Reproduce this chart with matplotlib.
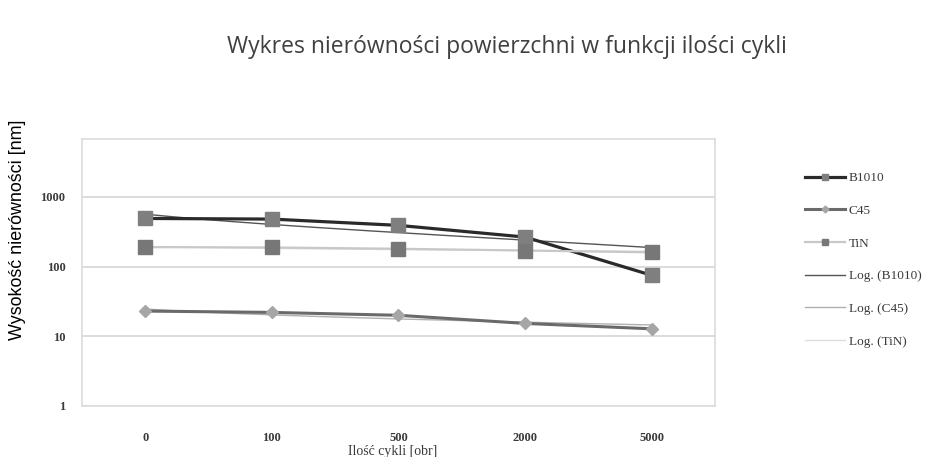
import numpy as np
import matplotlib
matplotlib.use("Agg")
import matplotlib.pyplot as plt
from matplotlib.lines import Line2D

# dane
cycles = ["0", "100", "500", "2000", "5000"]
b1010 = [490, 480, 390, 265, 75]
c45 = [23, 22, 20, 15.3, 12.8]
tin = [190, 188, 180, 170, 160]

series_names = ["B1010", "C45", "TiN"]
line_colors = ["#2a2a2a", "#6a6a6a", "#c8c8c8"]
marker_colors = ["#7f7f7f", "#a6a6a6", "#777777"]
trend_colors = ["#555555", "#b0b0b0", "#dedede"]

fig = plt.figure(figsize=(9.28, 4.57), dpi=100)
ax = fig.add_axes([82 / 928, 1 - 406 / 457, 633 / 928, 267 / 457])

x = np.arange(len(cycles))
data = [b1010, c45, tin]
markers = ["s", "D", "s"]
msizes = [9.5, 6.5, 9.5]
lwidths = [2.3, 2.2, 1.6]

for vals, lc, mc, m, ms, lw in zip(data, line_colors, marker_colors, markers, msizes, lwidths):
    ax.plot(x, vals, color=lc, linewidth=lw, marker=m, markersize=ms,
            markerfacecolor=mc, markeredgecolor=mc, zorder=3)

# linie trendu logarytmicznego (jak w Excelu: y = a*ln(x) + b, x = 1..n)
xx = np.linspace(1, len(cycles), 200)
for vals, tc in zip(data, trend_colors):
    a, b = np.polyfit(np.log(x + 1), vals, 1)
    ax.plot(xx - 1, a * np.log(xx) + b, color=tc, linewidth=1.0, zorder=2)

ax.set_yscale("log")
ax.set_ylim(1, 10 ** 3.83)
ax.set_xlim(-0.5, len(cycles) - 0.5)
ax.set_yticks([1, 10, 100, 1000])
ax.set_yticklabels(["1", "10", "100", "1000"])
ax.minorticks_off()
ax.set_xticks(x)
ax.set_xticklabels(cycles)
ax.yaxis.grid(True, color="#dcdcdc", linewidth=1.4)
ax.set_axisbelow(True)
ax.tick_params(length=0, labelsize=9, colors="#3a3a3a")
ax.tick_params(axis="y", pad=12)
ax.tick_params(axis="x", pad=19)
for lab in ax.get_xticklabels() + ax.get_yticklabels():
    lab.set_family("Liberation Serif")
    lab.set_fontweight("bold")
for sp in ax.spines.values():
    sp.set_color("#dcdcdc")
    sp.set_linewidth(1.2)

fig.text(393 / 928, 1 - 452 / 457, "Ilość cykli [obr]", ha="center", va="center",
         fontsize=10, family="Liberation Serif", color="#3a3a3a")
fig.text(18 / 928, 1 - 230 / 457, "Wysokość nierówności [nm]", rotation=90,
         ha="center", va="center", fontsize=12.9, family="Liberation Sans")
fig.text(507 / 928, 1 - 47 / 457, "Wykres nierówności powierzchni w funkcji ilości cykli",
         ha="center", va="center", fontsize=16.5, family="Open Sans", color="#404040")

handles = [
    Line2D([], [], color=line_colors[0], lw=2.3, marker="s", ms=5,
           mfc=marker_colors[0], mec=marker_colors[0]),
    Line2D([], [], color=line_colors[1], lw=2.2, marker="D", ms=3.5,
           mfc=marker_colors[1], mec=marker_colors[1]),
    Line2D([], [], color=line_colors[2], lw=1.6, marker="s", ms=5,
           mfc=marker_colors[2], mec=marker_colors[2]),
    Line2D([], [], color=trend_colors[0], lw=1.0),
    Line2D([], [], color=trend_colors[1], lw=1.0),
    Line2D([], [], color=trend_colors[2], lw=1.0),
]
labels = series_names + ["Log. (B1010)", "Log. (C45)", "Log. (TiN)"]
leg = fig.legend(handles, labels, loc="upper left",
                 bbox_to_anchor=(805 / 928, 1 - 172 / 457), frameon=False,
                 borderpad=0, borderaxespad=0, handlelength=3.0, handletextpad=0.3,
                 labelspacing=1.55, prop={"family": "Liberation Serif", "size": 9.5})
for t in leg.get_texts():
    t.set_color("#3a3a3a")

fig.savefig("out.png", dpi=100)
